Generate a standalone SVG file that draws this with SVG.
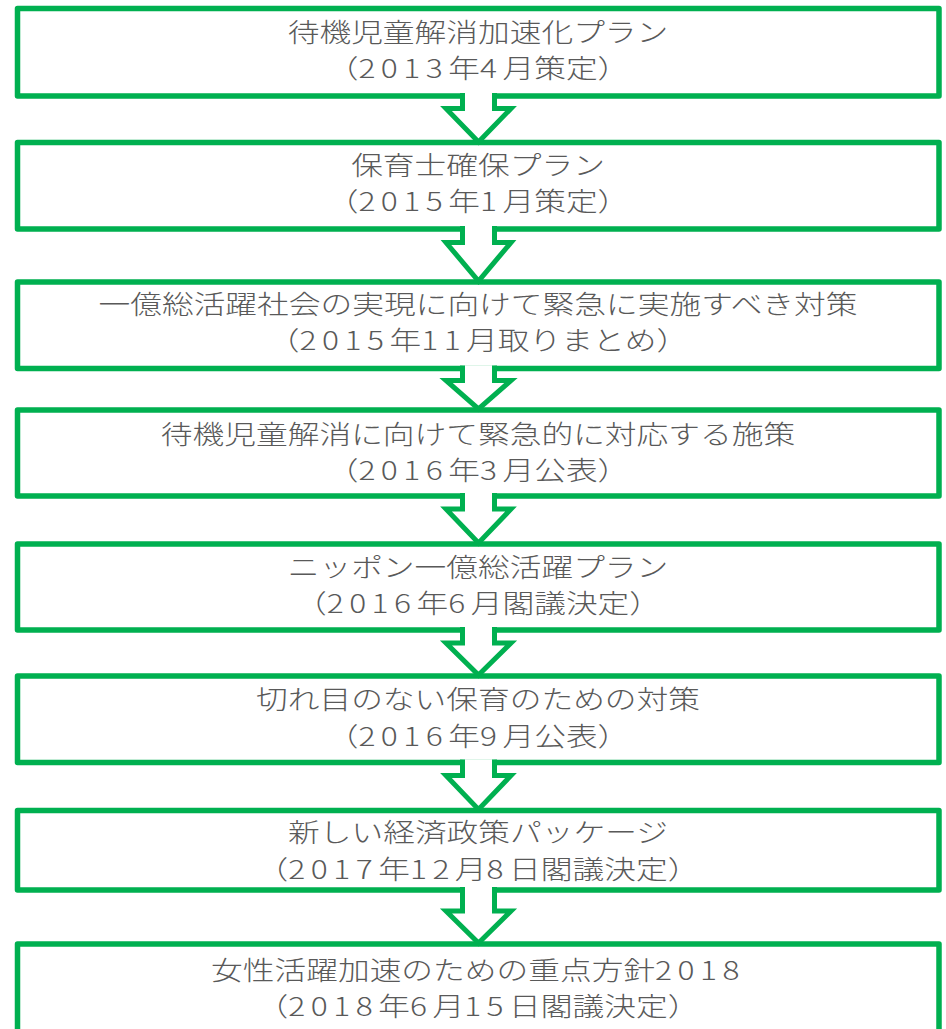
<svg xmlns="http://www.w3.org/2000/svg" width="946" height="1029" viewBox="0 0 946 1029">
<style>
.box{fill:#fff;stroke:#00B050;stroke-width:5.5;stroke-linejoin:round}
.arrfill{fill:#fff;stroke:none}
.arr{fill:none;stroke:#00B050;stroke-width:5;stroke-linejoin:miter}
.t{font-family:"Noto Sans CJK JP","Noto Sans",sans-serif;font-size:26px;font-weight:300;fill:#595959;text-anchor:middle}
.d{letter-spacing:4.5px}
</style>
<rect width="946" height="1029" fill="#fff"/>
<g id="node1"><rect class="box" x="17.5" y="8.5" width="921.5" height="87.5"/>
<text class="t" transform="matrix(1.22 0 0 1 478 42)">待機児童解消加速化プラン</text>
<text class="t" transform="matrix(1.22 0 0 1 478 78)">（<tspan class="d">2013</tspan>年<tspan class="d">4</tspan>月策定）</text></g>
<g id="node2"><rect class="box" x="17.5" y="142.5" width="921.5" height="86.5"/>
<text class="t" transform="matrix(1.22 0 0 1 478 175)">保育士確保プラン</text>
<text class="t" transform="matrix(1.22 0 0 1 478 211)">（<tspan class="d">2015</tspan>年<tspan class="d">1</tspan>月策定）</text></g>
<g id="node3"><rect class="box" x="17.5" y="282" width="921.5" height="86.5"/>
<text class="t" transform="matrix(1.22 0 0 1 478 314)">一億総活躍社会の実現に向けて緊急に実施すべき対策</text>
<text class="t" transform="matrix(1.22 0 0 1 478 350)">（<tspan class="d">2015</tspan>年<tspan class="d">11</tspan>月取りまとめ）</text></g>
<g id="node4"><rect class="box" x="17.5" y="410" width="921.5" height="86"/>
<text class="t" transform="matrix(1.22 0 0 1 478 443.5)">待機児童解消に向けて緊急的に対応する施策</text>
<text class="t" transform="matrix(1.22 0 0 1 478 480)">（<tspan class="d">2016</tspan>年<tspan class="d">3</tspan>月公表）</text></g>
<g id="node5"><rect class="box" x="17.5" y="544" width="921.5" height="86"/>
<text class="t" transform="matrix(1.22 0 0 1 478 577)">ニッポン一億総活躍プラン</text>
<text class="t" transform="matrix(1.22 0 0 1 478 613)">（<tspan class="d">2016</tspan>年<tspan class="d">6</tspan>月閣議決定）</text></g>
<g id="node6"><rect class="box" x="17.5" y="676" width="921.5" height="86.5"/>
<text class="t" transform="matrix(1.22 0 0 1 478 709)">切れ目のない保育のための対策</text>
<text class="t" transform="matrix(1.22 0 0 1 478 746)">（<tspan class="d">2016</tspan>年<tspan class="d">9</tspan>月公表）</text></g>
<g id="node7"><rect class="box" x="17.5" y="810.5" width="921.5" height="79.5"/>
<text class="t" transform="matrix(1.22 0 0 1 478 842)">新しい経済政策パッケージ</text>
<text class="t" transform="matrix(1.22 0 0 1 478 879)">（<tspan class="d">2017</tspan>年<tspan class="d">12</tspan>月<tspan class="d">8</tspan>日閣議決定）</text></g>
<g id="node8"><rect class="box" x="17.5" y="944" width="921.5" height="100"/>
<text class="t" transform="matrix(1.22 0 0 1 478 980)">女性活躍加速のための重点方針<tspan class="d">2018</tspan></text>
<text class="t" transform="matrix(1.22 0 0 1 478 1016)">（<tspan class="d">2018</tspan>年<tspan class="d">6</tspan>月<tspan class="d">15</tspan>日閣議決定）</text></g>
<g id="connectors">
<g><path class="arrfill" d="M462.5,93 L494.5,93 L494.5,108.5 L511,108.5 L478.5,142 L446,108.5 L462.5,108.5 Z"/><path class="arr" d="M462.5,93 L462.5,108.5 L446,108.5 L478.5,142 L511,108.5 L494.5,108.5 L494.5,93"/></g>
<g><path class="arrfill" d="M462.5,226 L494.5,226 L494.5,242.5 L511,242.5 L478.5,281 L446,242.5 L462.5,242.5 Z"/><path class="arr" d="M462.5,226 L462.5,242.5 L446,242.5 L478.5,281 L511,242.5 L494.5,242.5 L494.5,226"/></g>
<g><path class="arrfill" d="M462.5,365.5 L494.5,365.5 L494.5,380.5 L511,380.5 L478.5,409 L446,380.5 L462.5,380.5 Z"/><path class="arr" d="M462.5,365.5 L462.5,380.5 L446,380.5 L478.5,409 L511,380.5 L494.5,380.5 L494.5,365.5"/></g>
<g><path class="arrfill" d="M462.5,493 L494.5,493 L494.5,509 L511,509 L478.5,543 L446,509 L462.5,509 Z"/><path class="arr" d="M462.5,493 L462.5,509 L446,509 L478.5,543 L511,509 L494.5,509 L494.5,493"/></g>
<g><path class="arrfill" d="M462.5,627 L494.5,627 L494.5,643 L511,643 L478.5,675 L446,643 L462.5,643 Z"/><path class="arr" d="M462.5,627 L462.5,643 L446,643 L478.5,675 L511,643 L494.5,643 L494.5,627"/></g>
<g><path class="arrfill" d="M462.5,759.5 L494.5,759.5 L494.5,775.5 L511,775.5 L478.5,809.5 L446,775.5 L462.5,775.5 Z"/><path class="arr" d="M462.5,759.5 L462.5,775.5 L446,775.5 L478.5,809.5 L511,775.5 L494.5,775.5 L494.5,759.5"/></g>
<g><path class="arrfill" d="M462.5,887 L494.5,887 L494.5,911 L511,911 L478.5,943 L446,911 L462.5,911 Z"/><path class="arr" d="M462.5,887 L462.5,911 L446,911 L478.5,943 L511,911 L494.5,911 L494.5,887"/></g>
</g>
</svg>
